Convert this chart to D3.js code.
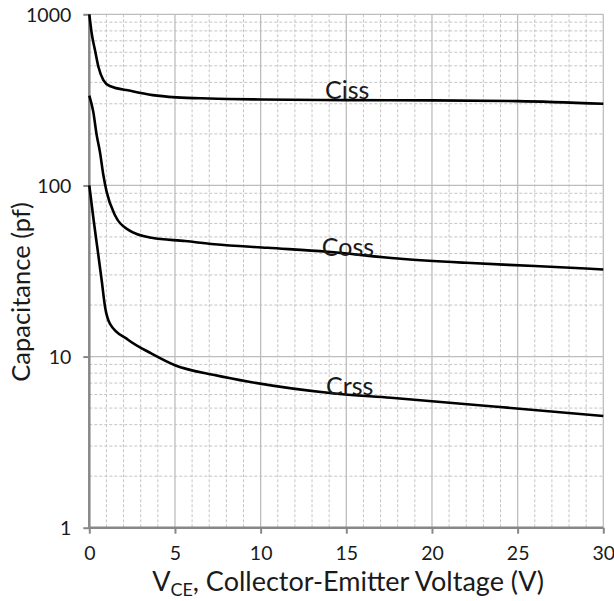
<!DOCTYPE html>
<html><head><meta charset="utf-8">
<script src="https://cdn.jsdelivr.net/npm/d3@7"></script>
<style>
body{margin:0;background:#fff}
text{font-family:Lato,"Open Sans",sans-serif;fill:#1a1a1a}
</style>
</head><body>
<svg id="c" width="614" height="601"></svg>
<script>
// ---- data ----
const cissX = [0, 0.14, 0.33, 0.53, 0.82, 1.2, 2.4, 3.7, 5.1, 7, 10, 15, 20, 25, 30];
const cissV = [1000, 774, 619, 494, 413, 381, 357, 337, 327, 322, 318, 315, 314, 311, 300];
const cossX = [0, 0.23, 0.43, 0.62, 0.82, 1.01, 1.5, 2.28, 3.64, 5.6, 7.3, 10.4, 13.9, 18, 22, 26, 30];
const cossV = [335, 270, 197, 157, 115, 92, 67, 55, 49.4, 47.3, 45.3, 43.2, 41, 37.4, 35.3, 33.8, 32.3];
const crssX = [0, 0.25, 0.5, 0.72, 0.92, 1.2, 2.28, 3.64, 5, 7.3, 9.4, 14.2, 17.6, 23.8, 30];
const crssV = [100, 63, 41, 28, 19.5, 15.6, 12.5, 10.4, 8.9, 7.8, 7.1, 6.1, 5.74, 5.09, 4.49];
const seriesNames = ["Ciss", "Coss", "Crss"];
const labelX = [13.76, 13.57, 13.82];
const labelV = [320, 38.7, 5.96];
const xTicks = [0, 5, 10, 15, 20, 25, 30];
const yTicks = [1, 10, 100, 1000];
const xTitle = ["V", "CE", ", Collector-Emitter Voltage (V)"];
const yTitle = "Capacitance (pf)";

// ---- chart ----
const svg = d3.select("#c");
const x = d3.scaleLinear().domain([0, 30]).range([89.3, 603.3]);
const y = d3.scaleLog().domain([1, 1000]).range([527.7, 14.3]);
const [x0, x1] = x.range();
const [yb, yt] = y.range();

const g = svg.append("g");
// minor vertical grid
const minorX = d3.range(1, 30).filter(v => v % 5 !== 0);
g.selectAll(".mvx").data(minorX).join("line")
  .attr("x1", d => x(d)).attr("x2", d => x(d)).attr("y1", yt).attr("y2", yb)
  .attr("stroke", "#c4c4c4").attr("stroke-width", 1).attr("stroke-dasharray", "3,2");
// minor horizontal grid
const minorY = [];
[1, 10, 100].forEach(k => { for (let i = 2; i <= 9; i++) minorY.push(i * k); });
g.selectAll(".mhy").data(minorY).join("line")
  .attr("x1", x0).attr("x2", x1).attr("y1", d => y(d)).attr("y2", d => y(d))
  .attr("stroke", "#c4c4c4").attr("stroke-width", 1).attr("stroke-dasharray", "3,2");
// major grid
g.selectAll(".Mx").data(xTicks.slice(1)).join("line")
  .attr("x1", d => x(d)).attr("x2", d => x(d)).attr("y1", yt).attr("y2", yb)
  .attr("stroke", "#bdbdbd").attr("stroke-width", 1.3);
g.selectAll(".My").data(yTicks.slice(1)).join("line")
  .attr("x1", x0).attr("x2", x1).attr("y1", d => y(d)).attr("y2", d => y(d))
  .attr("stroke", "#bdbdbd").attr("stroke-width", 1.3);

// axes
const yAxis = d3.axisLeft(y).tickValues(yTicks).tickFormat(d3.format("d")).tickSize(6).tickPadding(12);
const xAxis = d3.axisBottom(x).tickValues(xTicks).tickSize(6).tickPadding(12);
const ya = svg.append("g").attr("transform", `translate(${x0},0)`).call(yAxis);
const xa = svg.append("g").attr("transform", `translate(0,${yb})`).call(xAxis);
[ya, xa].forEach(a => {
  a.select(".domain").attr("stroke", "#878787").attr("stroke-width", 2.5);
  a.selectAll(".tick line").attr("stroke", "#878787").attr("stroke-width", 2);
  a.selectAll(".tick text").style("font-family", "Lato, 'Open Sans', sans-serif")
    .style("font-size", "19.5px").attr("fill", "#1a1a1a");
});
ya.select(".domain").attr("d", `M0,${yt}V${yb}`);
xa.select(".domain").attr("d", `M${x0},0H${x1}`);
ya.selectAll(".tick text").attr("dy", "0.35em");

// curves
const line = d3.line().x(d => x(d[0])).y(d => y(d[1])).curve(d3.curveMonotoneX);
const seriesData = [
  d3.zip(cissX, cissV),
  d3.zip(cossX, cossV),
  d3.zip(crssX, crssV)
];
svg.append("g").selectAll("path").data(seriesData).join("path")
  .attr("d", line).attr("fill", "none").attr("stroke", "#000").attr("stroke-width", 2.6)
  .attr("stroke-linejoin", "round");

// series labels
svg.append("g").selectAll("text").data(seriesNames).join("text")
  .attr("x", (d, i) => x(labelX[i])).attr("y", (d, i) => y(labelV[i]))
  .style("font-size", "25px").text(d => d);

// axis titles
const xt = svg.append("text").attr("x", 348).attr("y", 591)
  .attr("text-anchor", "middle").style("font-size", "27px");
xt.append("tspan").text(xTitle[0]);
xt.append("tspan").attr("dy", 5).style("font-size", "18px").text(xTitle[1]);
xt.append("tspan").attr("dy", -5).text(xTitle[2]);

svg.append("text").attr("transform", `translate(30,292) rotate(-90)`)
  .attr("text-anchor", "middle").style("font-size", "25.5px").text(yTitle);
</script>
</body></html>
